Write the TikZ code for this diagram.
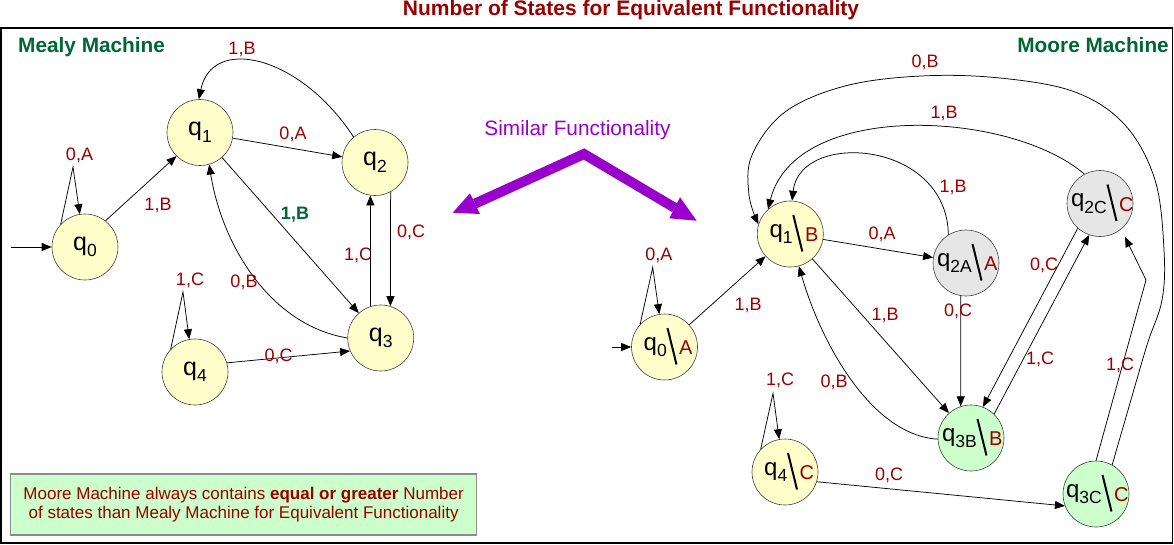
\documentclass[tikz,border=0pt]{standalone}
\usepackage{fontspec}
\setmainfont{Liberation Sans}
\usetikzlibrary{arrows.meta,calc}
\definecolor{dred}{HTML}{990000}
\definecolor{dgreen}{HTML}{006633}
\definecolor{purp}{HTML}{9900CC}
\definecolor{yel}{HTML}{FFFFCC}
\definecolor{gry}{HTML}{E6E6E6}
\definecolor{grn}{HTML}{CCFFCC}
\newcommand\qsub[1]{q\raisebox{-6.5pt}{\fontsize{17.5}{17.5}\selectfont #1}}
\newcommand\moore[7]{%
  \node[#4] (#1) at (#2,#3) {};
  \node[qtxt, anchor=base east] (#1q) at ($(#1.center)+(#7-5,3)$) {\qsub{#5}};
  \node[otxt, anchor=base west] (#1o) at ($(#1.center)+(#7+7,7.5)$) {#6};
  \draw[slash] ($(#1.center)+(#7-4.5,-19)$) -- ($(#1.center)+(#7+4.5,17.5)$);
}
\begin{document}
\begin{tikzpicture}[x=1pt,y=-1pt,
  state/.style={circle, draw=black!75, line width=0.6pt, minimum size=66pt, inner sep=0pt, font=\fontsize{25}{25}\selectfont},
  yst/.style={state, fill=yel},
  gst/.style={state, fill=gry},
  nst/.style={state, fill=grn},
  qtxt/.style={inner sep=0pt, font=\fontsize{24}{24}\selectfont},
  otxt/.style={inner sep=0pt, text=dred, font=\fontsize{20}{20}\selectfont},
  slash/.style={line width=2pt, black},
  lbl/.style={text=dred, font=\fontsize{18}{18}\selectfont, inner sep=0pt},
  conn/.style={draw=black, line width=0.75pt, -{Triangle[length=10pt,width=8pt]}},
  heading/.style={text=dgreen, font=\bfseries\fontsize{20.8}{20.8}\selectfont, inner sep=0pt}
]
\useasboundingbox (0,0) rectangle (1174,544);
% title and frame
\node[text=dred, font=\bfseries\fontsize{21}{21}\selectfont, inner sep=0pt, anchor=base] (title) at (631,15.5) {Number of States for Equivalent Functionality};
\draw[line width=1.4pt] (1,28) rectangle (1172.5,543);
\node[heading, anchor=base west] (mealyh) at (18,52) {Mealy Machine};
\node[heading, anchor=base east] (mooreh) at (1169,52) {Moore Machine};

% similar functionality
\node[text=purp, font=\fontsize{20.8}{20.8}\selectfont, inner sep=0pt, anchor=base] (sim) at (577.5,135) {Similar Functionality};
\draw[purp, line width=10pt, line join=miter] (475,203.6) -- (584,154) -- (674.7,207.8);
\fill[purp] (452.7,212.7) -- (470,193.3) -- (480,214) -- cycle;
\fill[purp] (696.7,220.7) -- (680,197.3) -- (669.3,218.3) -- cycle;

% note box
\node[draw=black!45, line width=1.2pt, fill=grn, minimum width=465.8pt, minimum height=61pt, inner sep=0pt,
  text=dred, align=center, font=\fontsize{17}{19}\selectfont] (note) at (243.6,504.5)
  {Moore Machine always contains \textbf{equal or greater} Number\\of states than Mealy Machine for Equivalent Functionality};

% ---------------- Mealy machine ----------------
\node[yst] (m0) at (85,247) {\qsub{0}};
\node[yst] (m1) at (200,132.5) {\qsub{1}};
\node[yst] (m2) at (375,162.5) {\qsub{2}};
\node[yst] (m3) at (380.7,338) {\qsub{3}};
\node[yst] (m4) at (195,372) {\qsub{4}};

\coordinate (ms) at (11,247);
\coordinate (m0t) at (73,167);
\coordinate (m4t) at (183,292);
\draw[conn] (ms) -- (m0);
\draw[conn] (m0.137) -- (m0t) -- (m0.99);
\draw[conn] (m0.52) -- (m1.225);
\draw[conn] (m1) -- (m2);
\draw[conn] (m2.130) .. controls (300,55) and (212,35) .. (m1.92);
\draw[conn] (m1) -- (m3);
\draw[conn] (m3.180) .. controls (270,325) and (222,245) .. (m1.-74);
\draw[conn] (m3.108) -- (m2.262);
\draw[conn] (m2.-62.5) -- (m3.73);
\draw[conn] (m4.137) -- (m4t) -- (m4.100);
\draw[conn] (m4.16) -- (m3.203);

\node[lbl] (la1) at (79.5,155) {0,A};
\node[lbl] (la2) at (158,205) {1,B};
\node[lbl] (la3) at (293,134) {0,A};
\node[lbl] (la4) at (242,49) {1,B};
\node[lbl, text=dgreen, font=\bfseries\fontsize{18}{18}\selectfont] (la5) at (295,215) {1,B};
\node[lbl] (la6) at (244,282) {0,B};
\node[lbl] (la7) at (358,255) {1,C};
\node[lbl] (la8) at (411,232) {0,C};
\node[lbl] (la9) at (190,280) {1,C};
\node[lbl] (la10) at (278.6,356) {0,C};

% ---------------- Moore machine ----------------
\moore{p0}{664.5}{347}{yst}{0}{A}{7.5}
\moore{p1}{790.3}{234}{yst}{1}{B}{7.5}
\moore{p2a}{966}{263}{gst}{2A}{A}{11}
\moore{p2c}{1100}{203.5}{gst}{2C}{C}{12}
\moore{p3b}{971}{438}{nst}{3B}{B}{11}
\moore{p4}{785}{472}{yst}{4}{C}{7.5}
\moore{p3c}{1096}{494}{nst}{3C}{C}{11}

\coordinate (ps) at (612,347);
\coordinate (p0t) at (652.7,267.3);
\coordinate (p4t) at (773,393.3);
\coordinate (pk) at (1146,280);
\coordinate (pe) at (1125,237);
\draw[conn] (ps) -- (p0);
\draw[conn] (p0.137) -- (p0t) -- (p0.99);
\draw[conn] (p0) -- (p1);
\draw[conn] (p1) -- (p2a);
\draw[conn] (p2a.122.7) .. controls (947,140) and (800,130) .. (p1.87);
\draw[conn] (p2c.118.5) .. controls (1010,110) and (795,100) .. (p1.132);
\draw[conn] plot[smooth, tension=0.6] coordinates {(p3c.61) (1126,417) (1147,345) (1162,300) (1164,250) (1155,180) (1125,125) (1075,92) (1000,78) (921,76) (845,86) (785,112) (752,155) (749,195) (p1.163)};
\draw[conn] (p1) -- (p3b);
\draw[conn] (p3b.182) .. controls (870,435) and (820,340) .. (p1.-75);
\draw[conn] (p2a.-99) -- (p3b.108);
\draw[conn] (p2c.228.5) -- (p3b.69.7);
\draw[conn] (p3b.46) -- (p2c.251.4);
\draw[conn] (p3c.90) -- (pk) -- (pe);
\draw[conn] (p4.137) -- (p4t) -- (p4.100);
\draw[conn] (p4.-17.4) -- (p3c.201.8);

\node[lbl] (lb1) at (658.8,255) {0,A};
\node[lbl] (lb2) at (748,305) {1,B};
\node[lbl] (lb3) at (882,234) {0,A};
\node[lbl] (lb4) at (953,187) {1,B};
\node[lbl] (lb5) at (944,113) {1,B};
\node[lbl] (lb6) at (925,62) {0,B};
\node[lbl] (lb7) at (885,315) {1,B};
\node[lbl] (lb8) at (834,382) {0,B};
\node[lbl] (lb9) at (958,311) {0,C};
\node[lbl] (lb10) at (1044,265) {0,C};
\node[lbl] (lb11) at (1040,359) {1,C};
\node[lbl] (lb12) at (1120,365) {1,C};
\node[lbl] (lb13) at (780,380) {1,C};
\node[lbl] (lb14) at (889,475) {0,C};
\end{tikzpicture}
\end{document}
